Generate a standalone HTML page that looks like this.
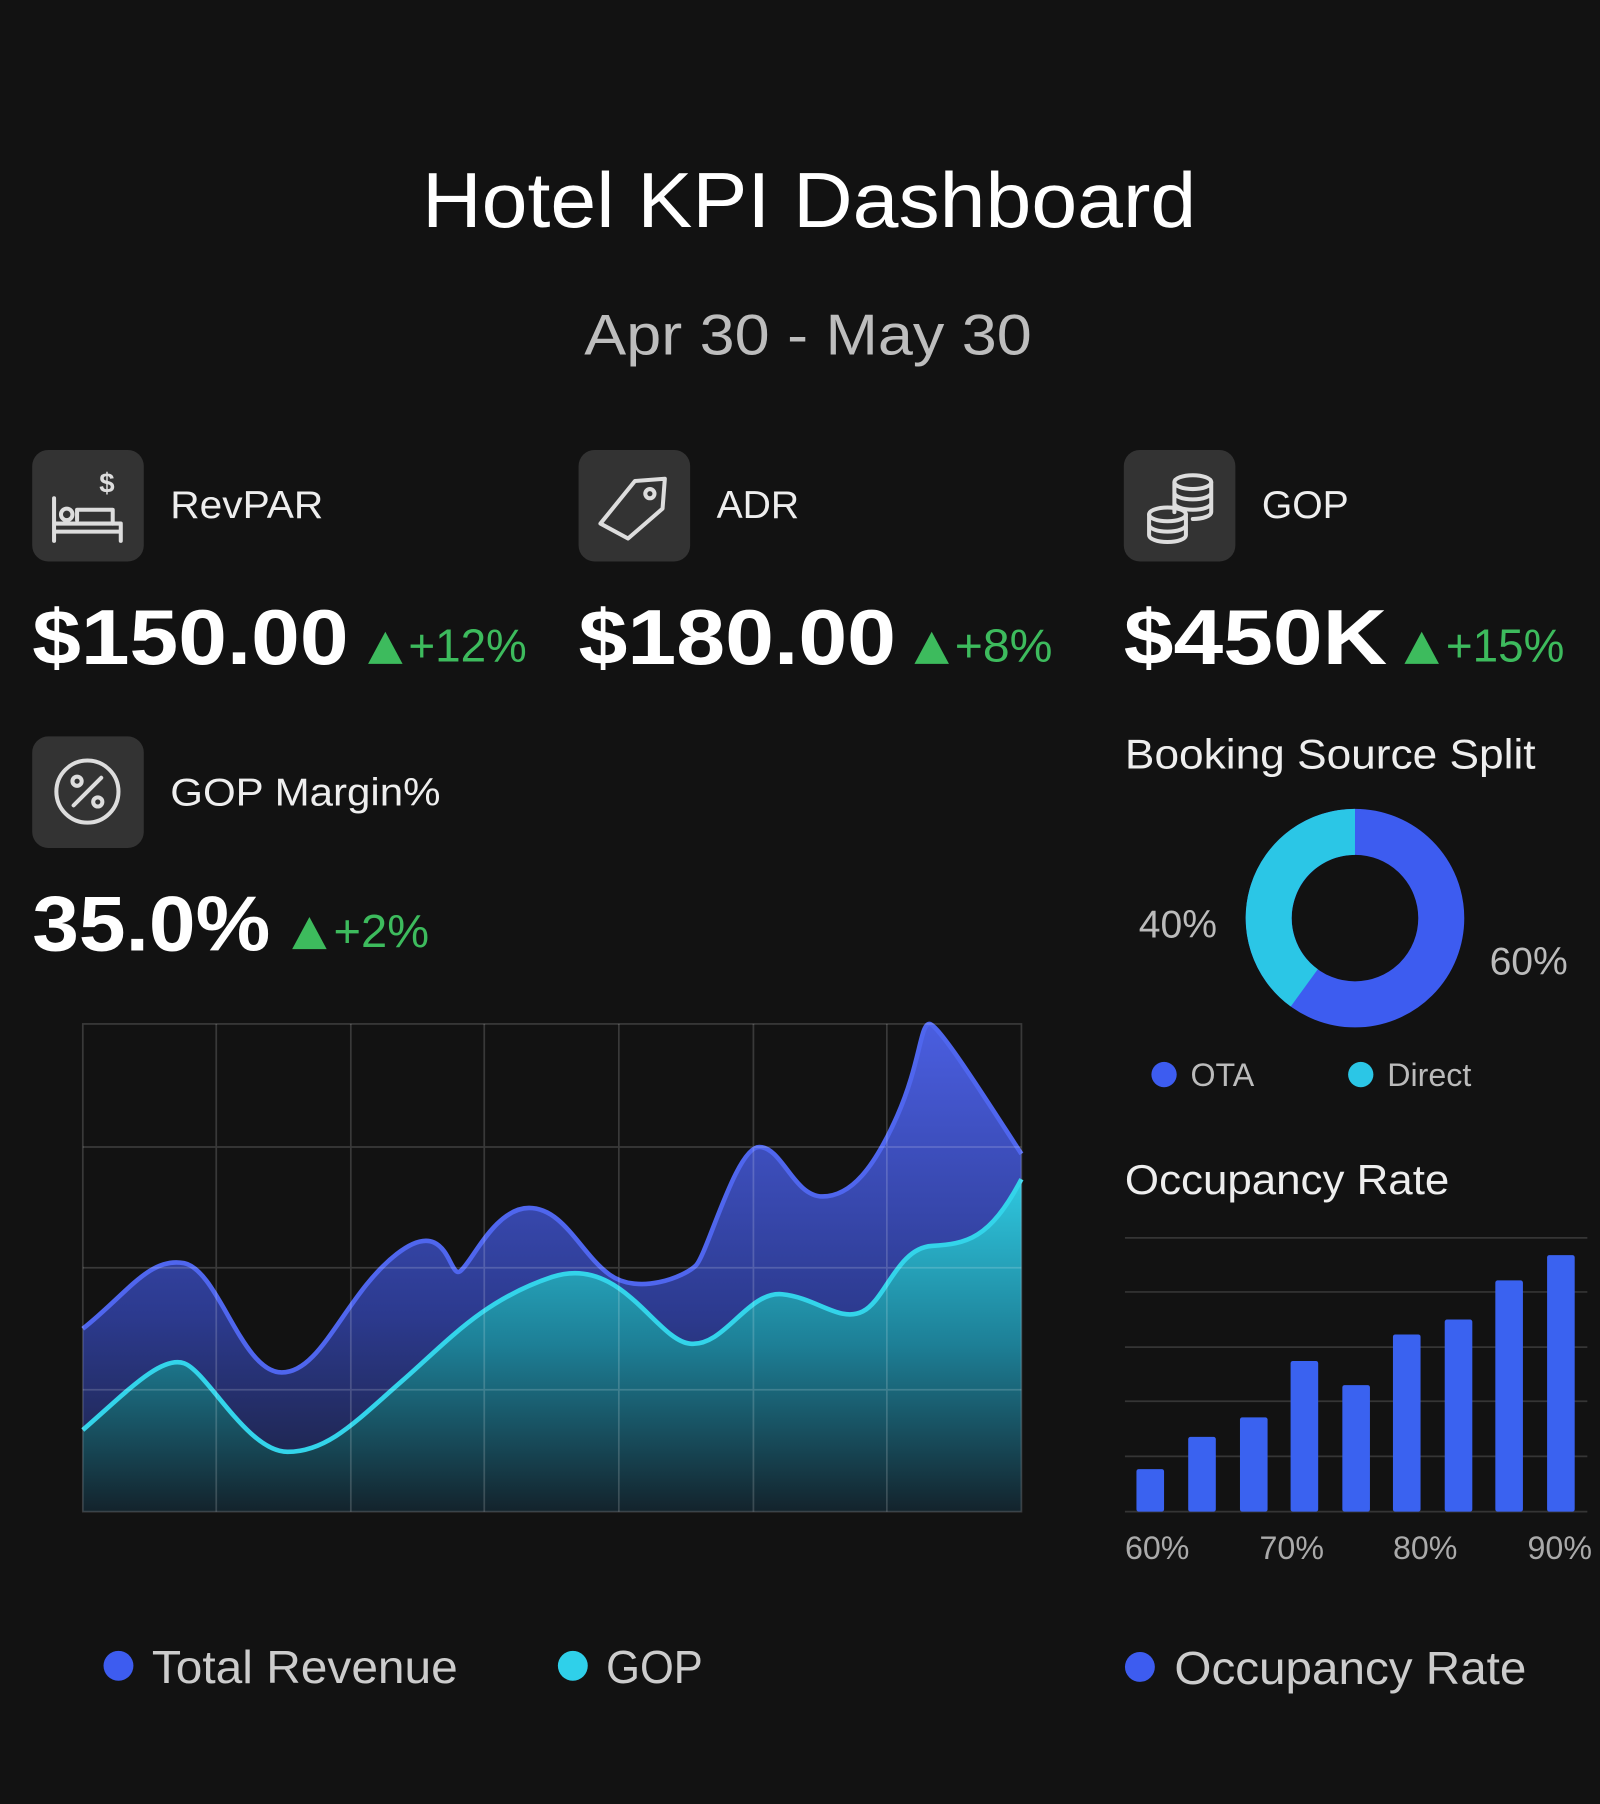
<!DOCTYPE html>
<html><head><meta charset="utf-8"><style>
html,body{margin:0;padding:0;background:#121212;}
svg{display:block;}
text{font-family:"Liberation Sans",sans-serif;}
</style></head><body>
<svg width="1600" height="1804" viewBox="0 0 1391 1568" xmlns="http://www.w3.org/2000/svg">
<defs>
<linearGradient id="gr" x1="0" y1="0" x2="0" y2="1"><stop offset="0" stop-color="#4a5ee0"/><stop offset="0.6" stop-color="#2c3a8e"/><stop offset="1" stop-color="#1a1f3a"/></linearGradient>
<linearGradient id="gg" x1="0" y1="0" x2="0" y2="1"><stop offset="0" stop-color="#2fc8e0"/><stop offset="0.5" stop-color="#1d7f96"/><stop offset="1" stop-color="#13232c"/></linearGradient>
</defs>
<rect width="1391" height="1568" fill="#121212"/>
<text x="367" y="197" font-size="68" fill="#fff" textLength="673" lengthAdjust="spacingAndGlyphs">Hotel KPI Dashboard</text>
<text x="508" y="308" font-size="50" fill="#bdbdbd" textLength="389" lengthAdjust="spacingAndGlyphs">Apr 30 - May 30</text>

<g fill="#333"><rect x="28" y="391" width="97" height="97" rx="14"/><rect x="503" y="391" width="97" height="97" rx="14"/><rect x="977" y="391" width="97" height="97" rx="14"/><rect x="28" y="640" width="97" height="97" rx="14"/></g>
<g stroke="#ddd" stroke-width="3.5" fill="none" stroke-linecap="round" stroke-linejoin="round">
<path d="M47 433 V470 M47 455 H105 V470 M47 462 H105"/><circle cx="58" cy="447" r="5"/><path d="M67 452 V443 H98 V455"/>
<path d="M522 455 L552 418 L578 416 L576 442 L546 468 Z"/><circle cx="565" cy="429" r="4"/>
<ellipse cx="1015" cy="447" rx="16" ry="6"/><path d="M999 447 V465 a16 6 0 0 0 32 0 V447 M999 456 a16 6 0 0 0 32 0"/>
<ellipse cx="1037" cy="419" rx="16" ry="6"/><path d="M1021 419 V445 M1053 419 V445 a16 6 0 0 1 -16 6 M1021 428 a16 6 0 0 0 32 0 M1021 437 a16 6 0 0 0 32 0"/>
<circle cx="76" cy="688" r="27"/><path d="M64 700 L88 676"/><circle cx="67" cy="679" r="4"/><circle cx="85" cy="697" r="4"/>
</g>
<text x="93" y="428" font-size="24" fill="#ddd" text-anchor="middle" font-weight="bold">$</text>

<g font-size="34" fill="#eee"><text x="148" y="450" textLength="133" lengthAdjust="spacingAndGlyphs">RevPAR</text><text x="623" y="450">ADR</text><text x="1097" y="450">GOP</text><text x="148" y="700" textLength="235" lengthAdjust="spacingAndGlyphs">GOP Margin%</text></g>
<g font-size="68" fill="#fff" font-weight="bold" lengthAdjust="spacingAndGlyphs"><text x="28" y="577" textLength="275" lengthAdjust="spacingAndGlyphs">$150.00</text><text x="503" y="577" textLength="276" lengthAdjust="spacingAndGlyphs">$180.00</text><text x="977" y="577" textLength="229" lengthAdjust="spacingAndGlyphs">$450K</text><text x="28" y="826" textLength="207" lengthAdjust="spacingAndGlyphs">35.0%</text></g>
<g fill="#3dbb5d"><path d="M320 577 L335 549 L350 577Z"/><path d="M795 577 L810 549 L825 577Z"/><path d="M1221 577 L1236 549 L1251 577Z"/><path d="M254 825 L269 797 L284 825Z"/></g>
<g font-size="40" fill="#3dbb5d"><text x="355" y="575" textLength="103" lengthAdjust="spacingAndGlyphs">+12%</text><text x="830" y="575" textLength="85" lengthAdjust="spacingAndGlyphs">+8%</text><text x="1257" y="575" textLength="103" lengthAdjust="spacingAndGlyphs">+15%</text><text x="290" y="823" textLength="83" lengthAdjust="spacingAndGlyphs">+2%</text></g>

<path d="M72 1155 C110 1125,130 1092,160 1098 S210 1193,245 1193 S300 1125,345 1090 S390 1112,400 1105 S430 1050,460 1050 S505 1090,530 1108 S595 1110,605 1100 S640 997,660 997 S690 1040,715 1040 S760 1015,780 970 S800 890,808 890 S860 960,888 1003 V1314 H72Z" fill="url(#gr)"/>
<path d="M72 1155 C110 1125,130 1092,160 1098 S210 1193,245 1193 S300 1125,345 1090 S390 1112,400 1105 S430 1050,460 1050 S505 1090,530 1108 S595 1110,605 1100 S640 997,660 997 S690 1040,715 1040 S760 1015,780 970 S800 890,808 890 S860 960,888 1003" fill="none" stroke="#4f66ee" stroke-width="4"/>
<path d="M72 1243 C110 1210,140 1178,160 1185 S215 1262,250 1262 S310 1235,350 1200 S420 1130,480 1110 S570 1165,600 1168 S650 1122,680 1125 S730 1150,750 1140 S780 1085,810 1083 S860 1078,888 1025 V1314 H72Z" fill="url(#gg)"/>
<path d="M72 1243 C110 1210,140 1178,160 1185 S215 1262,250 1262 S310 1235,350 1200 S420 1130,480 1110 S570 1165,600 1168 S650 1122,680 1125 S730 1150,750 1140 S780 1085,810 1083 S860 1078,888 1025" fill="none" stroke="#33d4ea" stroke-width="4"/>
<g stroke="#ffffff" stroke-opacity="0.17" stroke-width="1.5" fill="none">
<rect x="72" y="890" width="816" height="424"/>
<path d="M188 890V1314M305 890V1314M421 890V1314M538 890V1314M655 890V1314M771 890V1314M72 997H888M72 1102H888M72 1208H888"/>
</g>
<circle cx="103" cy="1448" r="13" fill="#3d5cf0"/><text x="132" y="1463" font-size="40" fill="#ccc" textLength="266" lengthAdjust="spacingAndGlyphs">Total Revenue</text>
<circle cx="498" cy="1448" r="13" fill="#2fd0ea"/><text x="527" y="1463" font-size="40" fill="#ccc" textLength="84" lengthAdjust="spacingAndGlyphs">GOP</text>

<text x="978" y="668" font-size="36" fill="#eee" textLength="357" lengthAdjust="spacingAndGlyphs">Booking Source Split</text>
<circle cx="1178" cy="798" r="75" fill="none" stroke="#3d5cf0" stroke-width="40"/>
<path d="M1178 723 A75 75 0 0 0 1133.9 858.7" fill="none" stroke="#2bc6e6" stroke-width="40"/>
<text x="990" y="815" font-size="34" fill="#bbb">40%</text><text x="1295" y="847" font-size="34" fill="#bbb">60%</text>
<circle cx="1012" cy="934" r="11" fill="#3d5cf0"/><text x="1035" y="944" font-size="28" fill="#bbb">OTA</text>
<circle cx="1183" cy="934" r="11" fill="#2bc6e6"/><text x="1206" y="944" font-size="28" fill="#bbb">Direct</text>

<text x="978" y="1038" font-size="36" fill="#eee" textLength="282" lengthAdjust="spacingAndGlyphs">Occupancy Rate</text>
<g stroke="#ffffff" stroke-opacity="0.15" stroke-width="1.5"><path d="M978 1076H1380M978 1123H1380M978 1171H1380M978 1218H1380M978 1266H1380M978 1314H1380"/></g>
<g fill="#3a62f0">
<rect x="988" y="1277" width="24" height="37" rx="2"/><rect x="1033" y="1249" width="24" height="65" rx="2"/><rect x="1078" y="1232" width="24" height="82" rx="2"/><rect x="1122" y="1183" width="24" height="131" rx="2"/><rect x="1167" y="1204" width="24" height="110" rx="2"/><rect x="1211" y="1160" width="24" height="154" rx="2"/><rect x="1256" y="1147" width="24" height="167" rx="2"/><rect x="1300" y="1113" width="24" height="201" rx="2"/><rect x="1345" y="1091" width="24" height="223" rx="2"/>
</g>
<g font-size="28" fill="#aaa"><text x="978" y="1355">60%</text><text x="1095" y="1355">70%</text><text x="1211" y="1355">80%</text><text x="1328" y="1355">90%</text></g>
<circle cx="991" cy="1449" r="13" fill="#3d5cf0"/><text x="1021" y="1464" font-size="40" fill="#ccc" textLength="306" lengthAdjust="spacingAndGlyphs">Occupancy Rate</text>
</svg>
</body></html>
